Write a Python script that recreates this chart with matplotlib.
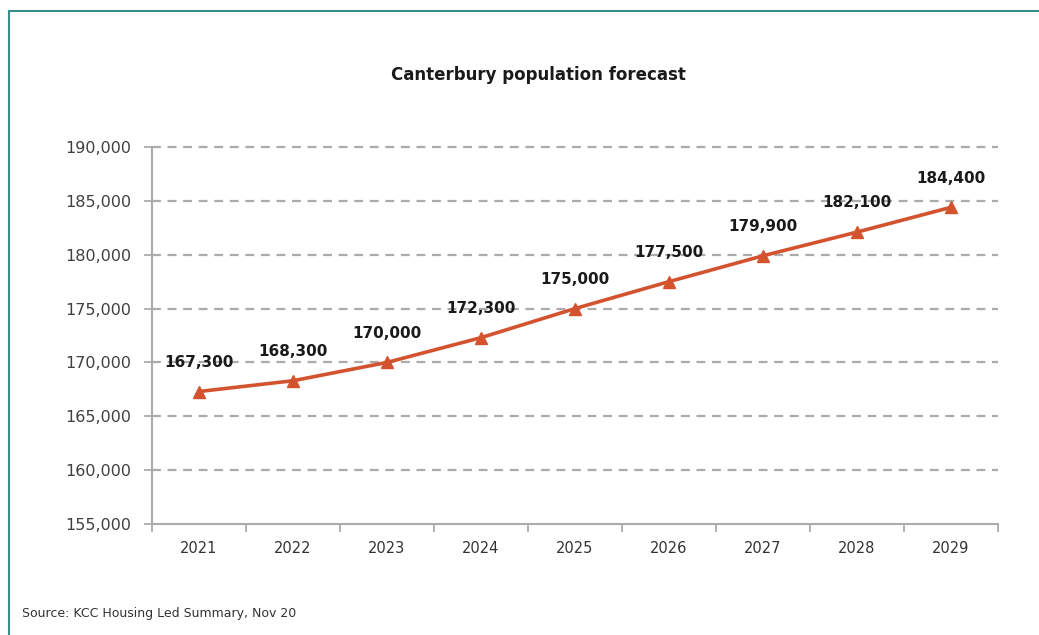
import matplotlib.pyplot as plt
from matplotlib.lines import Line2D
from matplotlib.ticker import FuncFormatter, FixedLocator, NullFormatter

years = ["2021", "2022", "2023", "2024", "2025", "2026", "2027", "2028", "2029"]
population = [167300, 168300, 170000, 172300, 175000, 177500, 179900, 182100, 184400]
y_ticks = [155000, 160000, 165000, 170000, 175000, 180000, 185000, 190000]

line_col = "#D4532F"
grid_col = "#ABABAB"
frame_col = "#3A8E8C"

fig = plt.figure(figsize=(10.39, 6.35), dpi=100)
ax = fig.add_axes([0.1463, 0.1748, 0.8142, 0.5937])

x = list(range(len(years)))
ax.plot(x, population, color=line_col, lw=2.6, marker="^", markersize=8, zorder=3)

for xi, v in zip(x, population):
    ax.annotate(f"{v:,}", (xi, v), xytext=(0, 21), textcoords="offset points",
                ha="center", va="center", fontsize=11, fontweight="bold",
                color="#1a1a1a", zorder=4)

ax.set_xlim(-0.5, len(years) - 0.5)
ax.set_ylim(155000, 190000)
ax.set_yticks(y_ticks)
ax.yaxis.set_major_formatter(FuncFormatter(lambda v, p: f"{int(v):,}"))

# category labels at centres, tick marks on the boundaries
ax.set_xticks(x)
ax.set_xticklabels(years)
ax.tick_params(axis="x", which="major", length=0, pad=12, labelsize=10.5, labelcolor="#333333")
ax.xaxis.set_minor_locator(FixedLocator([i - 0.5 for i in range(len(years) + 1)]))
ax.xaxis.set_minor_formatter(NullFormatter())
ax.tick_params(axis="x", which="minor", length=6, width=1.3, color=grid_col, direction="out")
ax.tick_params(axis="y", length=6, width=1.3, color=grid_col, labelsize=11.5,
               labelcolor="#404040", pad=9)

for yv in y_ticks[1:]:
    ax.axhline(yv, color=grid_col, lw=1.6, linestyle=(0, (4, 3)), zorder=1, clip_on=False)

for s in ["top", "right"]:
    ax.spines[s].set_visible(False)
for s in ["left", "bottom"]:
    ax.spines[s].set_color(grid_col)
    ax.spines[s].set_linewidth(1.5)

fig.text(0.518, 0.882, "Canterbury population forecast", ha="center", va="center",
         fontsize=12, fontweight="bold", color="#1a1a1a")
fig.text(0.021, 0.034, "Source: KCC Housing Led Summary, Nov 20", ha="left", va="center",
         fontsize=9, color="#333333")

# teal frame of the original figure
fig.add_artist(Line2D([0.0087, 1.0], [0.983, 0.983], color=frame_col, lw=1.5))
fig.add_artist(Line2D([0.0087, 0.0087], [0.0, 0.983], color=frame_col, lw=1.5))

fig.savefig("out.png", dpi=100)
